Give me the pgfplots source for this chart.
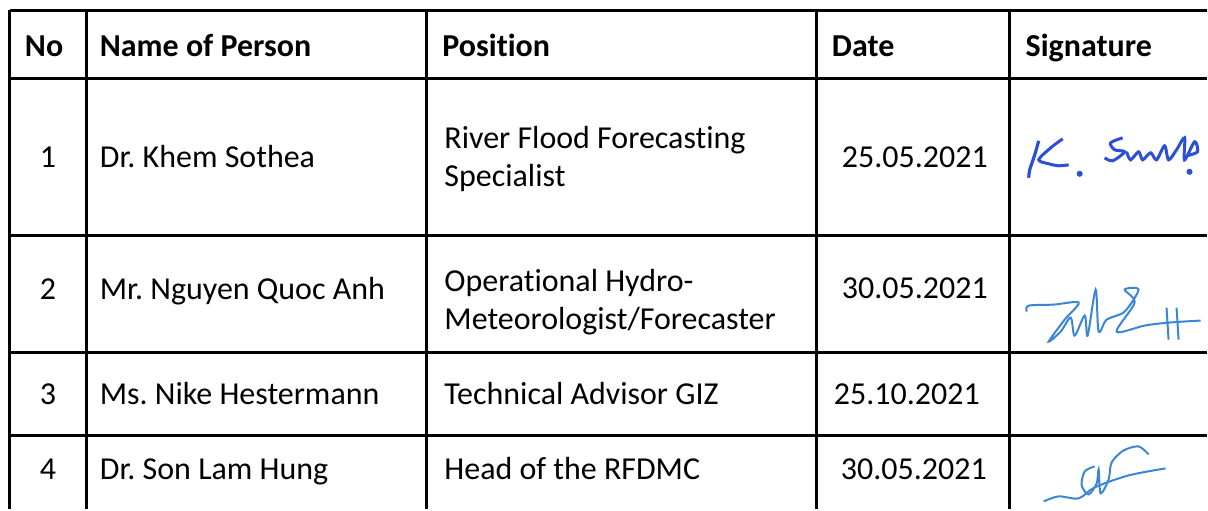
\documentclass[border=0pt]{standalone}
\usepackage{pgfplots}
\pgfplotsset{compat=1.18}
\usepackage{fontspec}
\setmainfont{Carlito}[Ligatures=CommonOff]
\frenchspacing
\definecolor{sigA}{HTML}{2B4FD6}
\definecolor{sigB}{HTML}{3A86D4}
\tikzset{cell/.style={font=\fontsize{16}{19}\selectfont, inner sep=0pt, outer sep=0pt}}
\begin{document}
\begin{tikzpicture}
\begin{axis}[
  scale only axis, width=604pt, height=255pt,
  xmin=0, xmax=1208, ymin=0, ymax=510, y dir=reverse,
  axis line style={draw=none}, ticks=none, clip=false,
]
% frame the picture to the full area
\addplot[draw=none] coordinates {(0,0) (1208,510)};
% table rules
\addplot[black, line width=1.5pt] coordinates {(10,11) (1208,11)};
\addplot[black, line width=1.5pt] coordinates {(10,79) (1208,79)};
\addplot[black, line width=1.5pt] coordinates {(10,236) (1208,236)};
\addplot[black, line width=1.5pt] coordinates {(10,353) (1208,353)};
\addplot[black, line width=1.5pt] coordinates {(10,436) (1208,436)};
\addplot[black, line width=1.5pt] coordinates {(10,10.3) (10,510)};
\addplot[black, line width=1.5pt] coordinates {(87,11) (87,510)};
\addplot[black, line width=1.5pt] coordinates {(427,11) (427,510)};
\addplot[black, line width=1.5pt] coordinates {(818,11) (818,510)};
\addplot[black, line width=1.5pt] coordinates {(1011,11) (1011,510)};
% header
\node[cell, anchor=base west] at (axis cs:25,57) {\bfseries No};
\node[cell, anchor=base west] at (axis cs:100,57) {\bfseries Name of Person};
\node[cell, anchor=base west] at (axis cs:443,57) {\bfseries Position};
\node[cell, anchor=base west] at (axis cs:833,57) {\bfseries Date};
\node[cell, anchor=base west] at (axis cs:1027,57) {\bfseries Signature};
% row 1
\node[cell, anchor=base] at (axis cs:48,168) {1};
\node[cell, anchor=base west] at (axis cs:100,168) {Dr. Khem Sothea};
\node[cell, anchor=base west] at (axis cs:445,149) {River Flood Forecasting};
\node[cell, anchor=base west] at (axis cs:445,187) {Specialist};
\node[cell, anchor=base west] at (axis cs:843,168) {25.05.2021};
% row 2
\node[cell, anchor=base] at (axis cs:48,300) {2};
\node[cell, anchor=base west] at (axis cs:100,300) {Mr. Nguyen Quoc Anh};
\node[cell, anchor=base west] at (axis cs:445,292) {Operational Hydro-};
\node[cell, anchor=base west] at (axis cs:445,330) {Meteorologist/Forecaster};
\node[cell, anchor=base west] at (axis cs:843,299) {30.05.2021};
% row 3
\node[cell, anchor=base] at (axis cs:48,405) {3};
\node[cell, anchor=base west] at (axis cs:100,405) {Ms. Nike Hestermann};
\node[cell, anchor=base west] at (axis cs:445,405) {Technical Advisor GIZ};
\node[cell, anchor=base west] at (axis cs:835,405) {25.10.2021};
% row 4
\node[cell, anchor=base] at (axis cs:48,480) {4};
\node[cell, anchor=base west] at (axis cs:100,480) {Dr. Son Lam Hung};
\node[cell, anchor=base west] at (axis cs:445,480) {Head of the RFDMC};
\node[cell, anchor=base west] at (axis cs:842,480) {30.05.2021};
% signature 1
\addplot[sigA, line width=1.6pt, smooth] coordinates {(1040,141) (1036,155) (1031,170) (1030,178)};
\addplot[sigA, line width=1.5pt, smooth] coordinates {(1064,139) (1052,148) (1040,160) (1050,164) (1060,166) (1070,165)};
\addplot[sigA, only marks, mark=*, mark size=1.3pt] coordinates {(1081,174) (1191,172)};
\addplot[sigA, line width=1.5pt, smooth] coordinates {(1124,138) (1112,143) (1116,150) (1126,152) (1114,161) (1106,158)};
\addplot[sigA, line width=1.5pt, smooth] coordinates {(1128,152) (1132,160) (1140,152) (1144,160) (1152,153) (1158,160) (1166,146) (1170,160) (1178,150) (1186,138) (1186,160) (1196,142) (1199,152) (1188,156)};
% signature 2
\addplot[sigB, line width=1pt, smooth] coordinates {(1028,312) (1030,306) (1055,305) (1080,303) (1066,320) (1050,342) (1062,332) (1072,318) (1076,336) (1086,316) (1089,336) (1097,290) (1100,332) (1108,320) (1126,312) (1140,290) (1126,290) (1136,303) (1118,332) (1146,326) (1170,323) (1202,321)};
\addplot[sigB, line width=1pt] coordinates {(1168,308) (1170,340)};
\addplot[sigB, line width=1pt] coordinates {(1178,308) (1180,340)};
% signature 4
\addplot[sigB, line width=1pt, smooth] coordinates {(1045,502) (1060,497) (1080,499) (1096,488) (1130,476) (1167,469)};
\addplot[sigB, line width=1pt, smooth] coordinates {(1096,467) (1086,472) (1083,486) (1090,495) (1098,484) (1100,470) (1102,494) (1110,480) (1113,463) (1125,451) (1140,447) (1150,455)};
\end{axis}
\end{tikzpicture}
\end{document}
